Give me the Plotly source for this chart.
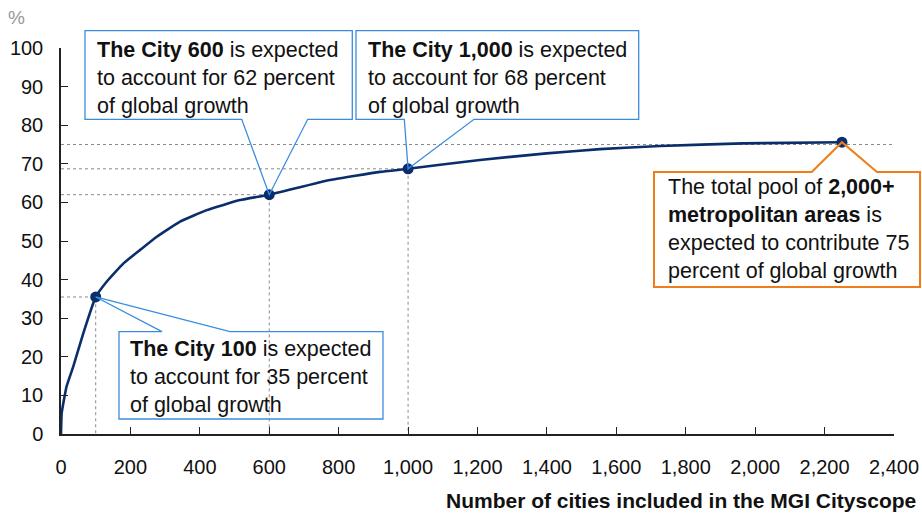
import plotly.graph_objects as go

# ---------------- data ----------------
CURVE_X = [0, 2, 16, 35, 64, 100, 132, 180, 228, 276, 343, 420, 516, 600, 775,
           919, 1000, 1207, 1399, 1553, 1726, 1965, 2250]
CURVE_Y = [0, 5.4, 12.3, 17.4, 26.0, 35.5, 39.5, 44.2, 47.7, 51.1, 55.0, 58.0,
           60.6, 62.0, 65.8, 67.9, 68.7, 71.0, 72.7, 73.8, 74.6, 75.3, 75.6]

MILESTONE_X = [100, 600, 1000, 2250]
MILESTONE_Y = [35.5, 62.0, 68.7, 75.6]
POOL_LEVEL = 75

X_TICKS = list(range(0, 2401, 200))
X_TICK_LABELS = [f"{v:,}" for v in X_TICKS]
Y_TICKS = list(range(0, 101, 10))

CALLOUT_TEXTS = [
    "<b>The City 100</b> is expected<br>to account for 35 percent<br>of global growth",
    "<b>The City 600</b> is expected<br>to account for 62 percent<br>of global growth",
    "<b>The City 1,000</b> is expected<br>to account for 68 percent<br>of global growth",
    "The total pool of <b>2,000+</b><br><b>metropolitan areas</b> is<br>expected to contribute 75<br>percent of global growth",
]
X_TITLE = "Number of cities included in the MGI Cityscope"
Y_UNIT = "%"

# ---------------- layout constants (screen pixels) ----------------
W, H = 922, 515
PLOT_L, PLOT_R, PLOT_T, PLOT_B = 61, 894, 48, 434
X_RANGE = [0, 2400]
Y_RANGE = [0, 100]
FONT = "Liberation Sans, Arial, sans-serif"
NAVY = "#0A2E6B"
BLUE = "#3A8DDE"
ORANGE = "#F07D1A"
GREY = "#8a8a8a"


def px2paper(px, py):
    return ((px - PLOT_L) / (PLOT_R - PLOT_L), (PLOT_B - py) / (PLOT_B - PLOT_T))


def data2paper(x, y):
    return ((x - X_RANGE[0]) / (X_RANGE[1] - X_RANGE[0]),
            (y - Y_RANGE[0]) / (Y_RANGE[1] - Y_RANGE[0]))


# callout geometry in screen pixels
CALLOUTS = [
    dict(box=(119, 331.7, 383, 419), side="top", w=(162, 230), tx=128, ty=377, color=BLUE, lw=1.3),
    dict(box=(85, 30.7, 352.3, 119.3), side="bottom", w=(241.7, 307.7), tx=94.5, ty=78, color=BLUE, lw=1.3),
    dict(box=(356, 30.7, 638.7, 119.3), side="bottom", w=(404.3, 474), tx=366, ty=78, color=BLUE, lw=1.3),
    dict(box=(654, 172, 920, 287), side="top", w=(811.7, 877), tx=666, ty=229, color=ORANGE, lw=2),
]

fig = go.Figure()

# dashed guide lines
for mx, my in zip(MILESTONE_X[:3], MILESTONE_Y[:3]):
    fig.add_trace(go.Scatter(
        x=[X_RANGE[0], mx, mx], y=[my, my, Y_RANGE[0]], mode="lines",
        line=dict(color=GREY, width=1, dash="3px,3px"), hoverinfo="skip", showlegend=False))
fig.add_trace(go.Scatter(
    x=[X_RANGE[0], X_RANGE[1]], y=[POOL_LEVEL, POOL_LEVEL], mode="lines",
    line=dict(color=GREY, width=1, dash="3px,3px"), hoverinfo="skip", showlegend=False))

# curve
fig.add_trace(go.Scatter(
    x=CURVE_X, y=CURVE_Y, mode="lines",
    line=dict(color=NAVY, width=2.6, shape="spline", smoothing=0.4),
    showlegend=False))

# milestone dots
fig.add_trace(go.Scatter(
    x=MILESTONE_X, y=MILESTONE_Y, mode="markers",
    marker=dict(color=NAVY, size=11), showlegend=False))

# callouts
shapes = []
annotations = []
for i, c in enumerate(CALLOUTS):
    l, t, r, b = c["box"]
    w1, w2 = c["w"]
    tip = data2paper(MILESTONE_X[i], MILESTONE_Y[i])
    if c["side"] == "bottom":
        pts = [px2paper(l, t), px2paper(r, t), px2paper(r, b), px2paper(w2, b),
               tip, px2paper(w1, b), px2paper(l, b)]
    else:
        pts = [px2paper(l, t), px2paper(w1, t), tip, px2paper(w2, t),
               px2paper(r, t), px2paper(r, b), px2paper(l, b)]
    path = "M " + " L ".join(f"{x:.5f},{y:.5f}" for x, y in pts) + " Z"
    shapes.append(dict(type="path", path=path, xref="paper", yref="paper",
                       line=dict(color=c["color"], width=c["lw"]), fillcolor="rgba(0,0,0,0)",
                       layer="above"))
    ax, ay = px2paper(c["tx"], c["ty"])
    annotations.append(dict(text=CALLOUT_TEXTS[i], x=ax, y=ay, xref="paper", yref="paper",
                            xanchor="left", yanchor="middle", align="left", showarrow=False,
                            font=dict(family=FONT, size=21.5, color="#111111")))

# axis title and unit
tx, ty = px2paper(918, 500)
annotations.append(dict(text=f"<b>{X_TITLE}</b>", x=tx, y=ty, xref="paper", yref="paper",
                        xanchor="right", yanchor="middle", showarrow=False,
                        font=dict(family=FONT, size=21, color="#111111")))
ux, uy = px2paper(6, 18)
annotations.append(dict(text=Y_UNIT, x=ux, y=uy, xref="paper", yref="paper",
                        xanchor="left", yanchor="middle", showarrow=False,
                        font=dict(family=FONT, size=19, color="#999999")))

fig.update_layout(
    width=W, height=H,
    margin=dict(l=PLOT_L, r=W - PLOT_R, t=PLOT_T, b=H - PLOT_B, autoexpand=False),
    paper_bgcolor="white", plot_bgcolor="white",
    font=dict(family=FONT, size=20, color="#111111"),
    shapes=shapes, annotations=annotations,
    xaxis=dict(range=X_RANGE, tickvals=X_TICKS, ticktext=X_TICK_LABELS, automargin=False,
               showgrid=False, zeroline=False, showline=True, linecolor="#222222", linewidth=1.5,
               ticks="inside", ticklen=7, tickcolor="#222222", tickwidth=1.2,
               ticklabelstandoff=14, tickfont=dict(size=20)),
    yaxis=dict(range=Y_RANGE, tickvals=Y_TICKS, automargin=False,
               showgrid=False, zeroline=False, showline=True, linecolor="#222222", linewidth=1.5,
               ticks="inside", ticklen=7, tickcolor="#222222", tickwidth=1.2,
               ticklabelstandoff=12, tickfont=dict(size=20)),
)

fig.write_html(
    "out.html",
    config={"displayModeBar": False},
    post_script="document.body.style.margin='0';document.body.style.overflow='hidden';",
)
